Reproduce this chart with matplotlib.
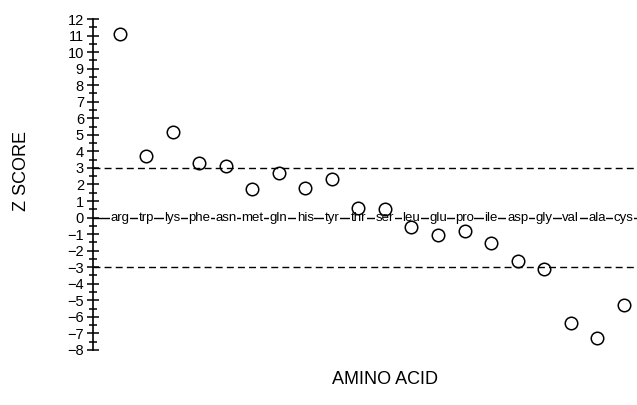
import numpy as np
import matplotlib
matplotlib.use("Agg")
import matplotlib.pyplot as plt
from matplotlib.ticker import MultipleLocator

plt.rcParams['font.family'] = ['Liberation Sans', 'DejaVu Sans']

amino = ['arg', 'trp', 'lys', 'phe', 'asn', 'met', 'gln', 'his', 'tyr', 'thr',
         'ser', 'leu', 'glu', 'pro', 'ile', 'asp', 'gly', 'val', 'ala', 'cys']
zscore = [11.1, 3.75, 5.2, 3.3, 3.1, 1.75, 2.7, 1.8, 2.35, 0.6,
          0.5, -0.55, -1.05, -0.8, -1.55, -2.6, -3.1, -6.35, -7.3, -5.3]
yticks = list(range(-8, 13))
limits = [3, -3]

fig = plt.figure(figsize=(6.37, 4.05), dpi=100)
ax = fig.add_axes([0.146, 0.136, 0.854, 0.817])

x = np.arange(1, len(amino) + 1)

# baseline with residue names on it
ax.axhline(0, color='black', lw=1.0, zorder=1)
for xi, name in zip(x, amino):
    ax.text(xi, 0, name, ha='center', va='center', fontsize=9.5,
            bbox=dict(facecolor='white', edgecolor='none', pad=0.4), zorder=2)

for lim in limits:
    ax.axhline(lim, color='black', lw=1.0, ls=(0, (5, 3)), zorder=1)

ax.plot(x, zscore, 'o', mfc='none', mec='black', ms=9, mew=1.1, zorder=3)

ax.set_xlim(0, 20.5)
ax.set_ylim(-8, 12)
ax.set_yticks(yticks)
ax.set_yticklabels([str(t).replace('-', '\u2212') for t in yticks], fontsize=10.5)
ax.yaxis.set_minor_locator(MultipleLocator(0.5))
ax.tick_params(axis='y', which='major', direction='inout', length=9, width=1.1, pad=2)
ax.tick_params(axis='y', which='minor', direction='inout', length=6, width=1.1)
ax.set_xticks([])

for s in ['top', 'right', 'bottom']:
    ax.spines[s].set_visible(False)
ax.spines['left'].set_linewidth(1.2)

fig.text(0.033, 0.578, 'Z SCORE', rotation=90, ha='center', va='center', fontsize=13)
fig.text(0.605, 0.064, 'AMINO ACID', ha='center', va='center', fontsize=13)

fig.savefig('out.png', dpi=100)
